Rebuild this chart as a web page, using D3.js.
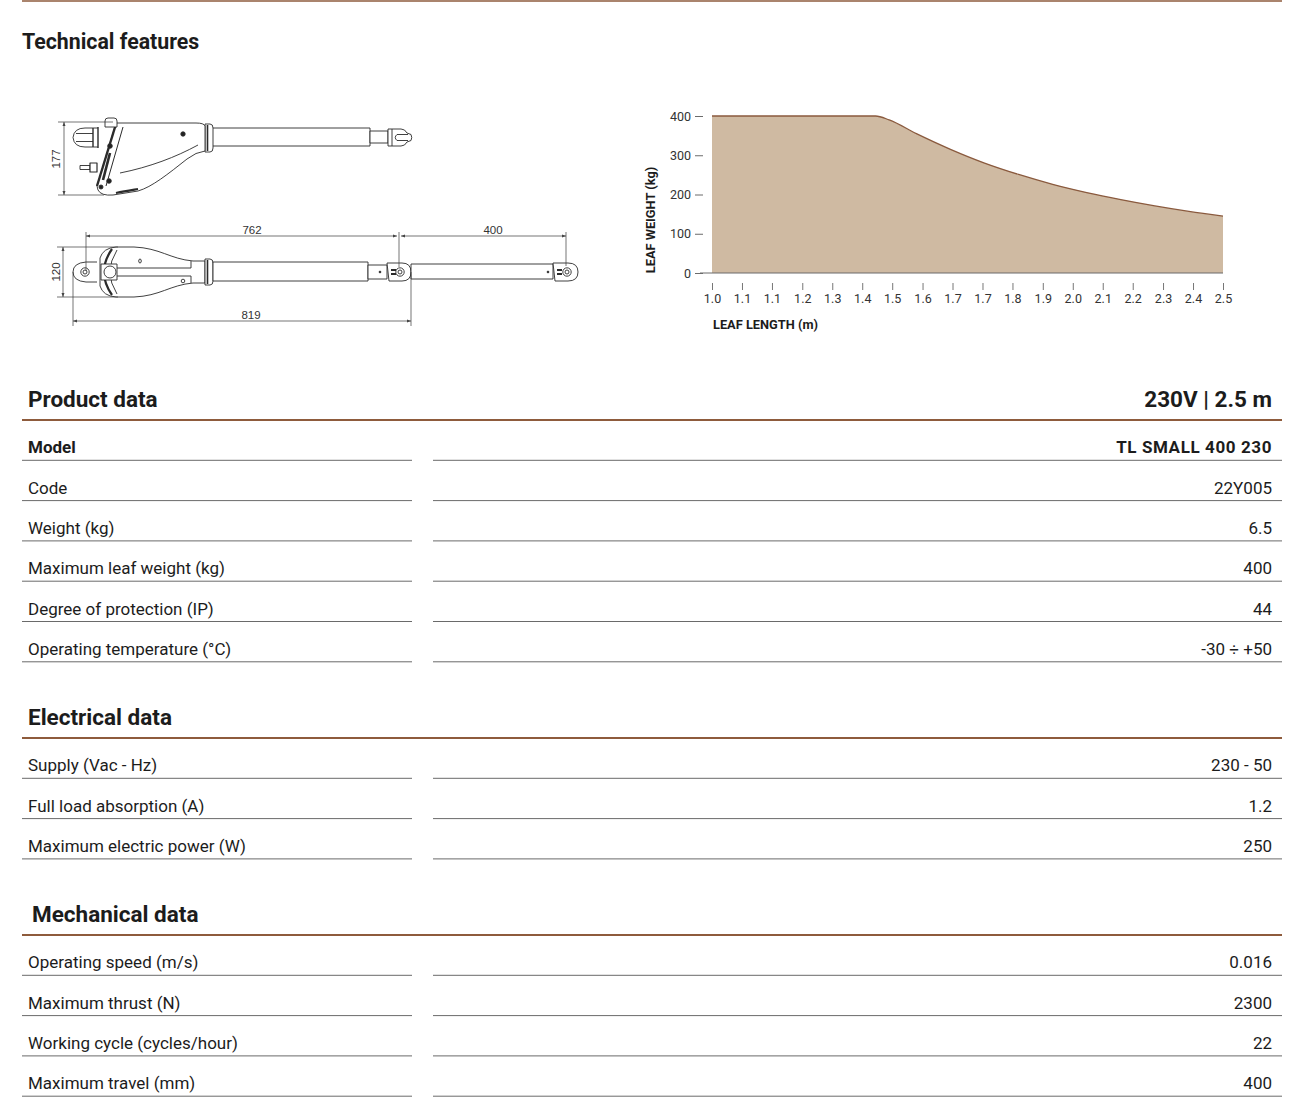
<!DOCTYPE html>
<html>
<head>
<meta charset="utf-8">
<script src="https://cdn.jsdelivr.net/npm/d3@7"></script>
<style>
  html, body { margin: 0; padding: 0; background: #fff; }
  svg { display: block; font-family: Roboto, "Noto Sans", sans-serif; }
</style>
</head>
<body>
<svg id="sheet"></svg>
<script>
var W = 1312;
var H = 1118;

// chart data: max leaf weight against leaf length
var leafLength = [1.0, 1.48, 1.52, 1.6, 1.7, 1.8, 1.9, 2.0, 2.1, 2.2, 2.3, 2.4, 2.5];
var leafWeight = [400, 400, 390, 355, 315, 280, 251, 226, 205, 187, 171, 157, 145];
var xTickValues = [1.0, 1.088, 1.176, 1.265, 1.353, 1.441, 1.529, 1.618, 1.706,
                   1.794, 1.882, 1.971, 2.059, 2.147, 2.235, 2.324, 2.412, 2.5];
var xTickLabels = ['1.0', '1.1', '1.1', '1.2', '1.3', '1.4', '1.5', '1.6', '1.7',
                   '1.7', '1.8', '1.9', '2.0', '2.1', '2.2', '2.3', '2.4', '2.5'];
var yTickValues = [0, 100, 200, 300, 400];

// table data
var productLabels = ['Model', 'Code', 'Weight (kg)', 'Maximum leaf weight (kg)',
                     'Degree of protection (IP)', 'Operating temperature (°C)'];
var productValues = ['TL SMALL 400 230', '22Y005', '6.5', '400', '44', '-30 ÷ +50'];
var electricalLabels = ['Supply (Vac - Hz)', 'Full load absorption (A)', 'Maximum electric power (W)'];
var electricalValues = ['230 - 50', '1.2', '250'];
var mechanicalLabels = ['Operating speed (m/s)', 'Maximum thrust (N)',
                        'Working cycle (cycles/hour)', 'Maximum travel (mm)'];
var mechanicalValues = ['0.016', '2300', '22', '400'];

var brown = '#8e5b3c';
var ink = '#1c1c1c';

var svg = d3.select('#sheet').attr('width', W).attr('height', H);

// top rule + title
svg.append('line')
  .attr('x1', 22).attr('x2', 1282).attr('y1', 1).attr('y2', 1)
  .attr('stroke', brown).attr('stroke-width', 1.5);
svg.append('text')
  .text('Technical features')
  .attr('x', 22).attr('y', 49)
  .attr('font-size', '21.3px').attr('font-weight', 700).attr('fill', ink);

// ---------- chart ----------
var x = d3.scaleLinear().domain([1.0, 2.5]).range([712, 1223]);
var y = d3.scaleLinear().domain([0, 400]).range([273, 116]);
var pts = leafLength.map(function (d, i) { return [d, leafWeight[i]]; });

var chart = svg.append('g');

chart.append('path')
  .datum(pts)
  .attr('fill', '#cfbaa2')
  .attr('d', d3.area()
    .x(function (d) { return x(d[0]); })
    .y0(y(0))
    .y1(function (d) { return y(d[1]); })
    .curve(d3.curveMonotoneX));

chart.append('path')
  .datum(pts)
  .attr('fill', 'none')
  .attr('stroke', '#8a5a3e')
  .attr('stroke-width', 1.3)
  .attr('d', d3.line()
    .x(function (d) { return x(d[0]); })
    .y(function (d) { return y(d[1]); })
    .curve(d3.curveMonotoneX));

chart.append('line')
  .attr('x1', 700).attr('x2', x(2.5))
  .attr('y1', y(0)).attr('y2', y(0))
  .attr('stroke', '#6b6b6b').attr('stroke-width', 1);

var yAxis = chart.append('g')
  .attr('transform', 'translate(703,0)')
  .call(d3.axisLeft(y).tickValues(yTickValues).tickSize(8).tickPadding(4));
yAxis.select('.domain').remove();
yAxis.selectAll('line').attr('stroke', '#6b6b6b');
yAxis.selectAll('text').attr('font-size', '12.5px').attr('fill', '#333')
  .attr('font-family', 'Roboto, sans-serif');

var xAxis = chart.append('g')
  .attr('transform', 'translate(0,283)')
  .call(d3.axisBottom(x).tickValues(xTickValues)
    .tickFormat(function (d, i) { return xTickLabels[i]; })
    .tickSize(7).tickPadding(4));
xAxis.select('.domain').remove();
xAxis.selectAll('line').attr('stroke', '#777');
xAxis.selectAll('text').attr('font-size', '12.5px').attr('fill', '#333')
  .attr('font-family', 'Roboto, sans-serif');

chart.append('text')
  .text('LEAF LENGTH (m)')
  .attr('x', 713).attr('y', 329)
  .attr('font-size', '12.8px').attr('font-weight', 700).attr('fill', ink);

chart.append('text')
  .text('LEAF WEIGHT (kg)')
  .attr('transform', 'translate(655,220) rotate(-90)')
  .attr('text-anchor', 'middle')
  .attr('font-size', '12.8px').attr('font-weight', 700).attr('fill', ink);

// ---------- drawings ----------
var defs = svg.append('defs');
defs.append('marker')
  .attr('id', 'arr').attr('viewBox', '0 0 8 6')
  .attr('refX', 8).attr('refY', 3)
  .attr('markerWidth', 6).attr('markerHeight', 4.5)
  .attr('orient', 'auto-start-reverse')
  .append('path').attr('d', 'M0,0 L8,3 L0,6 Z').attr('fill', '#444');

var dwg = svg.append('g')
  .attr('fill', '#fff')
  .attr('stroke', '#2b2b2b')
  .attr('stroke-width', 0.9)
  .attr('stroke-linejoin', 'round');

function p(d, opts) {
  var e = dwg.append('path').attr('d', d);
  if (opts) Object.keys(opts).forEach(function (k) { e.attr(k, opts[k]); });
  return e;
}
function dot(cx, cy, r) {
  dwg.append('circle').attr('cx', cx).attr('cy', cy).attr('r', r).attr('fill', '#222');
}
function ring(cx, cy, r) {
  dwg.append('circle').attr('cx', cx).attr('cy', cy).attr('r', r);
}

// side view
p('M212,128 H370 V146 H212 Z');
p('M370,131 H388 V143 H370 Z');
p('M388,129 H401 Q405,129 407,133 L411,134.5 Q412.5,137.5 411,140.5 L407,142 Q405,146 401,146 H388 Z');
p('M408,134.5 H397 Q393.5,137.5 397,140.5 H408', { fill: 'none' });
p('M392,129 V146', { fill: 'none' });
p('M205,124 H210 Q213,124 213,128 V148 Q213,152 210,152 H205 Z');
p('M207.5,125 V151', { fill: 'none', 'stroke-width': 1.6 });
p('M116,123 H196 Q204,123 205,126 V151 Q196,152 187,159 C168,174 152,187 138,191 L113,195 Q101,196 98,190 L97,186 Z');
p('M116,124 L97,186', { fill: 'none', 'stroke-width': 2.4 });
p('M123,127 L106,186', { fill: 'none', 'stroke-width': 1 });
p('M110,153 L103,180', { fill: 'none', 'stroke-width': 2.6 });
p('M120,173 C150,167 176,157 198,145', { fill: 'none' });
p('M116,193 C125,191 132,190 138,189', { fill: 'none', 'stroke-width': 2.2 });
p('M98,128 H85 Q74,128 73,137.5 Q74,147 85,147 H98', {});
p('M76,133.5 H93 M76,141.5 H93', { fill: 'none' });
p('M93,128 V147 M98,127 V148', { fill: 'none', 'stroke-width': 1.4 });
p('M105,121 Q105,118 108,118 H114 Q117,118 117,121 V127 H105 Z');
p('M80,165.5 H90 V169.5 H80 Z');
p('M90,163 H97 V172 H90 Z', { 'stroke-width': 1.2 });
dot(183, 134, 2.2);
dot(110, 146, 2.3);
dot(109, 181, 2.3);
dot(101, 187, 2);

// top view
p('M97,262 H86 Q73,263 73,272 Q73,281 86,282 H97');
ring(85, 272, 4.2);
ring(85, 272, 2);
p('M100,258 Q103,248 116,247 H134 C160,248 170,259 193,261 H205 V283 H193 C170,285 160,296 134,297 H116 Q103,296 100,286 Z');
p('M112,249 Q96,272 112,295', { fill: 'none', 'stroke-width': 2.2 });
p('M117,250 Q103,272 117,294', { fill: 'none' });
p('M101,264 H117 V280 H101 Z');
ring(110, 272, 6);
p('M117,268 H191 V261 M117,276 H191 V283', { fill: 'none' });
dwg.append('ellipse').attr('cx', 140).attr('cy', 261).attr('rx', 1.3).attr('ry', 2);
ring(183, 281, 1.8);
p('M205,259 H210 Q213,259 213,263 V281 Q213,285 210,285 H205 Z');
p('M207.5,260 V284', { fill: 'none', 'stroke-width': 1.6 });
p('M213,262 H368 V281 H213 Z');
p('M368,265 H387 V279 H368 Z');
dot(380, 272, 0.9);
p('M387,263 H402 Q411,263 411,272 Q411,281 402,281 H389 Z');
ring(400, 272, 4.2);
ring(400, 272, 2);
p('M391,270 H396 M391,274 H396', { fill: 'none', 'stroke-width': 2 });
p('M411,264 H553 V279 H411 Z');
dot(548, 272, 0.9);
p('M553,263 H568 Q578,263 578,272 Q578,281 568,281 H555 Z');
ring(567, 272, 4.2);
ring(567, 272, 2);
p('M557,270 H562 M557,274 H562', { fill: 'none', 'stroke-width': 2 });

// dimensions
var dim = svg.append('g').attr('stroke', '#3a3a3a').attr('stroke-width', 0.7).attr('fill', 'none');
function dline(x1, y1, x2, y2, arrows) {
  var l = dim.append('line').attr('x1', x1).attr('y1', y1).attr('x2', x2).attr('y2', y2);
  if (arrows) l.attr('marker-start', 'url(#arr)').attr('marker-end', 'url(#arr)');
}
dline(58, 122, 113, 122);
dline(58, 195, 104, 195);
dline(64, 122, 64, 195, true);
dline(57, 247, 118, 247);
dline(57, 297, 118, 297);
dline(63, 247, 63, 297, true);
dline(86, 232, 86, 271);
dline(399, 232, 399, 267);
dline(566, 232, 566, 266);
dline(86, 236, 397, 236, true);
dline(401, 236, 566, 236, true);
dline(73, 272, 73, 326);
dline(411, 272, 411, 326);
dline(73, 321, 411, 321, true);

var dimText = svg.append('g')
  .attr('font-family', '"Liberation Sans", Arial, sans-serif')
  .attr('font-size', '11.5px').attr('fill', '#333').attr('text-anchor', 'middle');
dimText.append('text').text('177').attr('transform', 'translate(60,159) rotate(-90)');
dimText.append('text').text('120').attr('transform', 'translate(60,272) rotate(-90)');
dimText.append('text').text('762').attr('x', 252).attr('y', 234);
dimText.append('text').text('400').attr('x', 493).attr('y', 234);
dimText.append('text').text('819').attr('x', 251).attr('y', 319);

// ---------- tables ----------
var rowH = 40.3;

function section(title, titleX, lineY, labels, values, boldFirst) {
  var g = svg.append('g');
  g.append('text')
    .text(title)
    .attr('x', titleX).attr('y', lineY - 13)
    .attr('font-size', '22.5px').attr('font-weight', 700).attr('fill', ink);
  g.append('line')
    .attr('x1', 22).attr('x2', 1282).attr('y1', lineY).attr('y2', lineY)
    .attr('stroke', brown).attr('stroke-width', 2);

  var rows = g.selectAll('g.row')
    .data(labels)
    .enter()
    .append('g')
    .attr('class', 'row')
    .attr('transform', function (d, i) { return 'translate(0,' + (lineY + rowH * (i + 1)) + ')'; });

  rows.append('line').attr('x1', 22).attr('x2', 412).attr('y1', 0).attr('y2', 0)
    .attr('stroke', '#6a6a6a').attr('stroke-width', 1);
  rows.append('line').attr('x1', 433).attr('x2', 1282).attr('y1', 0).attr('y2', 0)
    .attr('stroke', '#6a6a6a').attr('stroke-width', 1);

  rows.append('text')
    .text(function (d) { return d; })
    .attr('x', 28).attr('y', -7)
    .attr('font-size', '17px')
    .attr('font-weight', function (d, i) { return boldFirst && i === 0 ? 700 : 400; })
    .attr('fill', ink);
  rows.append('text')
    .text(function (d, i) { return values[i]; })
    .attr('x', 1272).attr('y', -7)
    .attr('text-anchor', 'end')
    .attr('font-size', '17px')
    .attr('letter-spacing', function (d, i) { return boldFirst && i === 0 ? '0.6px' : null; })
    .attr('font-weight', function (d, i) { return boldFirst && i === 0 ? 700 : 400; })
    .attr('fill', ink);
  return g;
}

var prod = section('Product data', 28, 420, productLabels, productValues, true);
prod.append('text')
  .text('230V | 2.5 m')
  .attr('x', 1272).attr('y', 407)
  .attr('text-anchor', 'end')
  .attr('font-size', '22.5px').attr('font-weight', 700).attr('fill', ink);
section('Electrical data', 28, 738, electricalLabels, electricalValues, false);
section('Mechanical data', 32, 935, mechanicalLabels, mechanicalValues, false);
</script>
</body>
</html>
